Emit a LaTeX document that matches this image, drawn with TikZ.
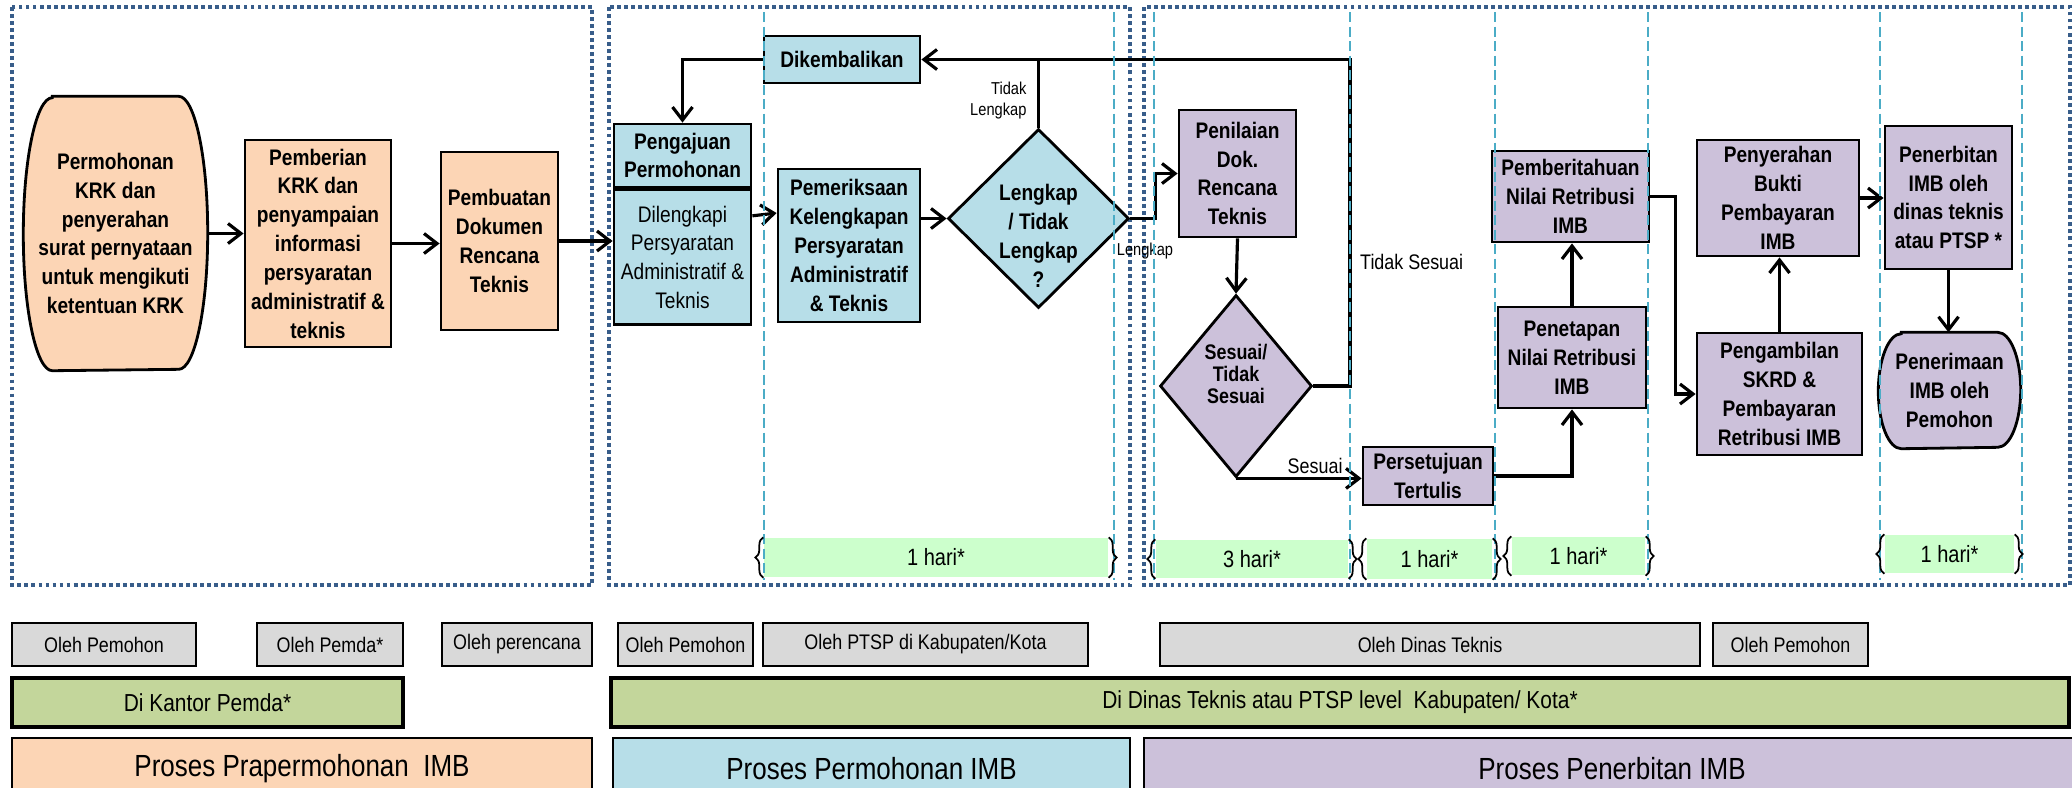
\documentclass[tikz,border=0pt]{standalone}
\usepackage{fontspec}
\setmainfont{Liberation Sans}[FakeStretch=0.85]
\usetikzlibrary{arrows.meta,positioning,shapes.geometric,decorations.pathreplacing,backgrounds}

\definecolor{peach}{RGB}{252,213,181}
\definecolor{ltblue}{RGB}{183,222,232}
\definecolor{lilac}{RGB}{204,193,218}
\definecolor{harigreen}{RGB}{204,255,204}
\definecolor{olehgray}{RGB}{217,217,217}
\definecolor{lokasigreen}{RGB}{195,214,155}
\definecolor{framebl}{RGB}{56,93,138}
\definecolor{sepbl}{RGB}{75,172,198}

\tikzset{
  box/.style={draw, line width=0.8pt, align=center, inner sep=1pt,
    font=\fontsize{6.4}{8.2}\selectfont\bfseries},
  pra/.style={box, fill=peach},
  mohon/.style={box, fill=ltblue},
  terbit/.style={box, fill=lilac},
  tanya/.style={draw, line width=0.8pt, diamond, inner sep=0pt},
  teks/.style={align=center, inner sep=0pt, font=\fontsize{6.4}{8.2}\selectfont\bfseries},
  arr/.style={line width=0.9pt, -{Straight Barb[length=1.3mm,width=2mm]}},
  garis/.style={line width=0.9pt},
  ket/.style={inner sep=1pt, font=\fontsize{6}{7}\selectfont},
  ketkecil/.style={inner sep=1pt, align=right, font=\fontsize{4.9}{6}\selectfont},
  bingkai/.style={draw=framebl, line width=1.1pt, dash pattern=on 1.1pt off 0.9pt},
  pisah/.style={draw=sepbl, line width=0.6pt, dash pattern=on 1mm off 0.45mm},
  hari/.style={fill=harigreen, inner sep=0pt, font=\fontsize{6.7}{8}\selectfont},
  kurung/.style={decorate, decoration={brace, amplitude=0.8mm}, line width=0.5pt},
  oleh/.style={draw, line width=0.6pt, fill=olehgray, minimum height=0.43cm, inner sep=0pt,
    font=\fontsize{6}{7}\selectfont},
  lokasi/.style={draw, line width=1.2pt, fill=lokasigreen, minimum height=0.49cm, inner sep=0pt,
    font=\fontsize{7}{8}\selectfont},
  proses/.style={draw, line width=0.6pt, minimum height=0.62cm, inner sep=0pt,
    font=\fontsize{8.7}{10}\selectfont},
}

\begin{document}
\begin{tikzpicture}
\useasboundingbox (0,0) rectangle (20.72,-7.87);

% dotted frames
\draw[bingkai] (0.12,-0.07) rectangle (5.92,-5.85);
\draw[bingkai] (6.09,-0.07) rectangle (11.30,-5.85);
\draw[bingkai] (11.44,-0.07) rectangle (20.70,-5.85);

% proses prapermohonan
\node[teks, minimum width=1.83cm, minimum height=2.73cm] (krk) at (1.155,-2.335)
  {Permohonan\\KRK dan\\penyerahan\\surat pernyataan\\untuk mengikuti\\ketentuan KRK};
\node[pra, minimum width=1.46cm, minimum height=2.07cm] (beri) at (3.18,-2.435)
  {Pemberian\\KRK dan\\penyampaian\\informasi\\persyaratan\\administratif \&\\teknis};
\node[pra, minimum width=1.17cm, minimum height=1.78cm] (buat) at (4.995,-2.41)
  {Pembuatan\\Dokumen\\Rencana\\Teknis};

% proses permohonan
\node[mohon, minimum width=1.37cm, minimum height=0.63cm] (aju) at (6.825,-1.555)
  {Pengajuan\\Permohonan};
\node[mohon, font=\fontsize{6.4}{8.2}\selectfont, minimum width=1.37cm, minimum height=1.35cm,
  below=0pt of aju] (lengkapi) {Dilengkapi\\Persyaratan\\Administratif \&\\Teknis};
\node[mohon, minimum width=1.56cm, minimum height=0.47cm] (kembali) at (8.42,-0.595) {Dikembalikan};
\node[mohon, minimum width=1.42cm, minimum height=1.53cm] (periksa) at (8.49,-2.455)
  {Pemeriksaan\\Kelengkapan\\Persyaratan\\Administratif\\\& Teknis};
\node[tanya, fill=ltblue, minimum width=1.81cm, minimum height=1.79cm] (cek) at (10.385,-2.185) {};
\node[teks] (cektxt) at (10.385,-2.36) {Lengkap\\/ Tidak\\Lengkap\\?};

% proses penerbitan
\node[terbit, minimum width=1.17cm, minimum height=1.27cm] (nilai) at (12.375,-1.735)
  {Penilaian\\Dok.\\Rencana\\Teknis};
\node[tanya, fill=lilac, minimum width=1.52cm, minimum height=1.82cm] (sesuai) at (12.36,-3.86) {};
\node[teks, font=\fontsize{6}{6.3}\selectfont\bfseries] (sesuaitxt) at (12.36,-3.74)
  {Sesuai/\\Tidak\\Sesuai};
\node[terbit, minimum width=1.30cm, minimum height=0.58cm] (setuju) at (14.28,-4.76)
  {Persetujuan\\Tertulis};
\node[terbit, minimum width=1.48cm, minimum height=1.01cm] (tetap) at (15.72,-3.575)
  {Penetapan\\Nilai Retribusi\\IMB};
\node[terbit, minimum width=1.57cm, minimum height=0.91cm] (tahu) at (15.705,-1.965)
  {Pemberitahuan\\Nilai Retribusi\\IMB};
\node[terbit, minimum width=1.62cm, minimum height=1.16cm] (serah) at (17.78,-1.98)
  {Penyerahan\\Bukti\\Pembayaran\\IMB};
\node[terbit, minimum width=1.65cm, minimum height=1.22cm] (ambil) at (17.795,-3.94)
  {Pengambilan\\SKRD \&\\Pembayaran\\Retribusi IMB};
\node[terbit, minimum width=1.27cm, minimum height=1.43cm] (terbitkan) at (19.485,-1.975)
  {Penerbitan\\IMB oleh\\dinas teknis\\atau PTSP *};
\node[teks, minimum width=1.41cm, minimum height=1.15cm] (terima) at (19.495,-3.905)
  {Penerimaan\\IMB oleh\\Pemohon};

\begin{scope}[on background layer]
  \draw[fill=peach, line width=0.8pt] ([xshift=2.9mm]krk.north west) -- ([xshift=-2.9mm]krk.north east)
    arc[start angle=90, end angle=-90, x radius=2.9mm, y radius=13.65mm]
    -- ([xshift=2.9mm]krk.south west)
    arc[start angle=270, end angle=90, x radius=2.9mm, y radius=13.65mm] -- cycle;
  \draw[fill=lilac, line width=0.8pt] ([xshift=2.3mm]terima.north west) -- ([xshift=-2.3mm]terima.north east)
    arc[start angle=90, end angle=-90, x radius=2.3mm, y radius=5.75mm]
    -- ([xshift=2.3mm]terima.south west)
    arc[start angle=270, end angle=90, x radius=2.3mm, y radius=5.75mm] -- cycle;
\end{scope}

% connectors
\draw[arr] (krk.east) -- (krk.east -| beri.west);
\draw[arr] (beri.east) -- (beri.east -| buat.west);
\draw[arr] (buat.east) -- (buat.east -| lengkapi.west);
\draw[arr] (kembali.west) -| (aju.north);
\draw[arr] ([yshift=4.15mm]lengkapi.east) -- ([yshift=3.25mm]periksa.west);
\draw[arr] (periksa.east |- cek.west) -- (cek.west);
\draw[garis] (cek.north) -- node[ketkecil, left=0.7mm, pos=0.4] (tdklengkap) {Tidak\\Lengkap}
  (cek.north |- kembali.east);
\coordinate (balik) at (13.50,-0.595);
\draw[arr] (sesuai.east) -| (balik) -- (kembali.east);
\node[ket, anchor=west] (tdksesuai) at (13.56,-2.62) {Tidak Sesuai};
\draw[arr] (cek.east) -- ++(0.25,0) |- (nilai.west);
\node[ketkecil] (lengkaplbl) at (11.45,-2.51) {Lengkap};
\draw[arr] (nilai.south) -- (sesuai.north);
\draw[arr] (sesuai.south) -- node[ket, above, pos=0.63] (sesuailbl) {Sesuai} (sesuai.south -| setuju.west);
\draw[arr] (setuju.east) -| (tetap.south);
\draw[arr] (tetap.north) -- (tetap.north |- tahu.south);
\draw[arr] (tahu.east) -- ++(0.25,0) |- (ambil.west);
\draw[arr] (ambil.north) -- (ambil.north |- serah.south);
\draw[arr] (serah.east) -- (serah.east -| terbitkan.west);
\draw[arr] (terbitkan.south) -- (terbitkan.south |- terima.north);

% waktu
\node[hari, minimum width=3.44cm, minimum height=0.39cm] (h1) at (9.36,-5.575) {1 hari*};
\node[hari, minimum width=1.92cm, minimum height=0.38cm] (h2) at (12.52,-5.59) {3 hari*};
\node[hari, minimum width=1.25cm, minimum height=0.40cm] (h3) at (14.295,-5.59) {1 hari*};
\node[hari, minimum width=1.33cm, minimum height=0.38cm] (h4) at (15.785,-5.56) {1 hari*};
\node[hari, minimum width=1.29cm, minimum height=0.38cm] (h5) at (19.495,-5.54) {1 hari*};

% lanes
\foreach \x in {7.64,11.14,11.54,13.50,14.95,16.48,18.80,20.22}
  \draw[pisah] (\x,-0.12) -- (\x,-5.80);

\foreach \h in {h1,h2,h3,h4,h5} {
  \draw[kurung] (\h.south west) -- (\h.north west);
  \draw[kurung] (\h.north east) -- (\h.south east);
}

% pelaku
\node[oleh, minimum width=1.84cm] (o1) at (1.04,-6.445) {Oleh Pemohon};
\node[oleh, minimum width=1.46cm] (o2) at (3.30,-6.445) {Oleh Pemda*};
\node[oleh, minimum width=1.50cm] (o3) at (5.17,-6.445) {Oleh perencana};
\node[oleh, minimum width=1.35cm] (o4) at (6.855,-6.445) {Oleh Pemohon};
\node[oleh, minimum width=3.25cm] (o5) at (9.255,-6.445) {Oleh PTSP di Kabupaten/Kota};
\node[oleh, minimum width=5.40cm] (o6) at (14.30,-6.445) {Oleh Dinas Teknis};
\node[oleh, minimum width=1.55cm] (o7) at (17.905,-6.445) {Oleh Pemohon};

% lokasi
\node[lokasi, minimum width=3.91cm] (l1) at (2.075,-7.025) {Di Kantor Pemda*};
\node[lokasi, minimum width=14.58cm] (l2) at (13.40,-7.025) {Di Dinas Teknis atau PTSP level\ \ Kabupaten/ Kota*};

% tahap
\node[proses, fill=peach, minimum width=5.80cm] (p1) at (3.02,-7.69) {Proses Prapermohonan\ \ IMB};
\node[proses, fill=ltblue, minimum width=5.17cm] (p2) at (8.715,-7.69) {Proses Permohonan IMB};
\node[proses, fill=lilac, minimum width=9.36cm] (p3) at (16.12,-7.69) {Proses Penerbitan IMB};
\end{tikzpicture}
\end{document}
